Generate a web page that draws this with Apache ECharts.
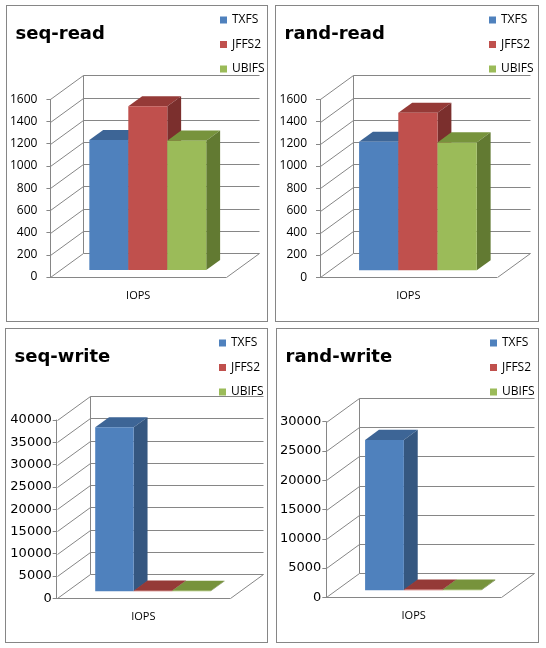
<!DOCTYPE html>
<html>
<head>
<meta charset="utf-8">
<script src="https://cdn.jsdelivr.net/npm/echarts@6/dist/echarts.min.js"></script>
<style>
    html, body { margin: 0; padding: 0; background: #fff; }
    body { width: 546px; height: 648px; position: relative; overflow: hidden; }
    .panel { position: absolute; border: 1px solid #868686; box-sizing: border-box; }
</style>
</head>
<body>
<div class="panel" id="p0" style="left:6px;top:5px;width:262px;height:317px"></div>
<div class="panel" id="p1" style="left:275px;top:5px;width:264px;height:317px"></div>
<div class="panel" id="p2" style="left:5px;top:328px;width:263px;height:315px"></div>
<div class="panel" id="p3" style="left:276px;top:328px;width:263px;height:315px"></div>
<script>
// 数据
var titles = ['seq-read', 'rand-read', 'seq-write', 'rand-write'];
var categories = ['IOPS'];
var seriesNames = ['TXFS', 'JFFS2', 'UBIFS'];
var txfs = [1170, 1155, 36800, 25700];
var jffs2 = [1475, 1416, 150, 130];
var ubifs = [1165, 1150, 120, 110];
var axisMax = [1600, 1600, 40000, 30000];
var axisStep = [200, 200, 5000, 5000];

// 布局 (每个面板)
var layouts = [
    { left: 42.5, top: 93.3, width: 176.5, height: 177.7, font: 'Open Sans', size: 12, margin: 13 },
    { left: 44, top: 93.3, width: 176.7, height: 178, font: 'Open Sans', size: 12, margin: 13 },
    { left: 50.7, top: 91, width: 173.3, height: 178.3, font: 'DejaVu Sans', size: 13, margin: 5 },
    { left: 48, top: 92.7, width: 176, height: 175.6, font: 'DejaVu Sans', size: 13, margin: 5 }
];

// 3D 效果: 正面 / 顶面 / 侧面
var faceColors = [
    ['#4F81BD', '#3D6596', '#355780'],
    ['#C0504D', '#953A37', '#7B2F2D'],
    ['#9BBB59', '#77933C', '#627A32']
];
var DX = 33, DY = -24;        // 深度偏移
var F1 = 0.29, F2 = 0.71;     // 柱子前后位置
var BAR_FRAC = 0.222;         // 柱宽 / 类目宽
var LINE = '#868686';

function px(v) { return Math.round(v) + 0.5; }

function wallItem(params, api) {
    var cs = params.coordSys;
    var v = api.value(1);
    var y = px(api.coord([0, v])[1]);
    var x0 = px(cs.x), x1 = px(cs.x + cs.width);
    var st = { stroke: LINE, lineWidth: 1, fill: null };
    var children = [
        { type: 'polyline', shape: { points: [[x0, y], [x0 + DX, y + DY], [x1 + DX, y + DY]] }, style: st }
    ];
    if (v === 0) {
        children.push({ type: 'line', shape: { x1: x0 + DX, y1: y + DY, x2: x0 + DX, y2: px(cs.y) + DY }, style: st });
        children.push({ type: 'line', shape: { x1: x1, y1: y, x2: x1 + DX, y2: y + DY }, style: st });
    }
    return { type: 'group', children: children };
}

function barItem(idx) {
    return function (params, api) {
        var base = api.coord([api.value(0), 0]);
        var top = api.coord([api.value(0), api.value(1)]);
        var bw = api.size([1, 0])[0] * BAR_FRAC;
        var x = base[0] - 1.5 * bw + idx * bw + F1 * DX;
        var yb = base[1] + F1 * DY, yt = top[1] + F1 * DY;
        var ddx = (F2 - F1) * DX, ddy = (F2 - F1) * DY;
        var c = faceColors[idx];
        return {
            type: 'group',
            children: [
                { type: 'polygon', shape: { points: [[x, yt], [x + bw, yt], [x + bw + ddx, yt + ddy], [x + ddx, yt + ddy]] }, style: { fill: c[1] } },
                { type: 'polygon', shape: { points: [[x + bw, yt], [x + bw + ddx, yt + ddy], [x + bw + ddx, yb + ddy], [x + bw, yb]] }, style: { fill: c[2] } },
                { type: 'rect', shape: { x: x, y: yt, width: bw, height: yb - yt }, style: { fill: c[0] } }
            ]
        };
    };
}

var values = [txfs, jffs2, ubifs];

for (var i = 0; i < 4; i++) {
    var lay = layouts[i];
    var chart = echarts.init(document.getElementById('p' + i));

    var ticks = [];
    for (var t = 0; t <= axisMax[i]; t += axisStep[i]) {
        ticks.push([0, t]);
    }

    var series = [{
        type: 'custom',
        name: 'wall',
        renderItem: wallItem,
        data: ticks,
        encode: { x: 0, y: 1 },
        z: 1,
        silent: true
    }];
    for (var s = 0; s < seriesNames.length; s++) {
        series.push({
            type: 'custom',
            name: seriesNames[s],
            renderItem: barItem(s),
            itemStyle: { color: faceColors[s][0] },
            data: [[0, values[s][i]]],
            encode: { x: 0, y: 1 },
            z: 2 + s
        });
    }

    var option = {
        animation: false,
        title: {
            text: titles[i],
            left: 8.5,
            top: 19,
            padding: 0,
            textStyle: { fontFamily: 'DejaVu Sans', fontWeight: 'bold', fontSize: 18, color: '#000' }
        },
        legend: {
            data: seriesNames,
            orient: 'vertical',
            left: 213,
            top: 8,
            padding: 0,
            itemWidth: 7,
            itemHeight: 7,
            itemGap: 12.5,
            icon: 'rect',
            textStyle: { fontFamily: 'Open Sans', fontSize: 12, color: '#000' }
        },
        grid: { left: lay.left, top: lay.top, width: lay.width, height: lay.height, containLabel: false },
        xAxis: {
            type: 'category',
            data: categories,
            boundaryGap: true,
            axisLine: { lineStyle: { color: LINE } },
            axisTick: { length: 5, lineStyle: { color: LINE } },
            axisLabel: { margin: 13, fontFamily: 'Open Sans', fontSize: 11, color: '#000' }
        },
        yAxis: {
            type: 'value',
            min: 0,
            max: axisMax[i],
            interval: axisStep[i],
            axisLine: { show: true, lineStyle: { color: LINE } },
            axisTick: { show: true, length: 4, lineStyle: { color: LINE } },
            splitLine: { show: false },
            axisLabel: {
                margin: lay.margin,
                fontFamily: lay.font,
                fontSize: lay.size,
                color: '#000',
                formatter: function (v) { return String(v); }
            }
        },
        series: series
    };

    chart.setOption(option);
}
</script>
</body>
</html>
